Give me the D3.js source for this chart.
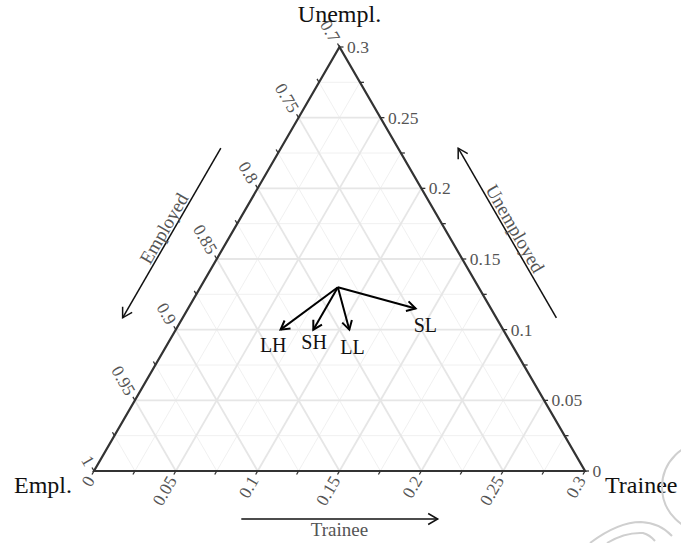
<!DOCTYPE html>
<html>
<head>
<meta charset="utf-8">
<script src="https://cdn.jsdelivr.net/npm/d3@7/dist/d3.min.js"></script>
<style>
  body { margin: 0; background: #fff; }
  text { font-family: "Liberation Serif", "DejaVu Serif", serif; }
</style>
</head>
<body>
<svg id="chart" width="681" height="543"></svg>
<script>
// Axis ticks (zoomed ternary region: Empl 0.7–1, Trainee 0–0.3, Unempl 0–0.3)
const emplTicks = [0.7, 0.75, 0.8, 0.85, 0.9, 0.95, 1];
const emplLabels = ["0.7", "0.75", "0.8", "0.85", "0.9", "0.95", "1"];
const traineeTicks = [0, 0.05, 0.1, 0.15, 0.2, 0.25, 0.3];
const traineeLabels = ["0", "0.05", "0.1", "0.15", "0.2", "0.25", "0.3"];
const unemplTicks = [0, 0.05, 0.1, 0.15, 0.2, 0.25, 0.3];
const unemplLabels = ["0", "0.05", "0.1", "0.15", "0.2", "0.25", "0.3"];
const minorSteps = [0.025, 0.075, 0.125, 0.175, 0.225, 0.275];

// Common starting composition and the four group shifts
const groups = ["LH", "SH", "LL", "SL"];
const startTrainee = 0.084;
const startUnempl = 0.130;
const endTrainee = [0.064, 0.084, 0.106, 0.139];
const endUnempl = [0.100, 0.100, 0.100, 0.115];
const labelTrainee = [0.065, 0.089, 0.114, 0.151];
const labelUnempl = [0.089, 0.091, 0.088, 0.103];

// Axis direction arrows (range along each edge)
const arrowEmpl = [0.79, 0.91];
const arrowTrainee = [0.09, 0.21];
const arrowUnempl = [0.09, 0.21];

const svg = d3.select("#chart");

// Ternary -> screen: horizontal uses Trainee + Unempl/2, vertical uses Unempl
const hScale = d3.scaleLinear().domain([0, 0.3]).range([94, 585]);
const vScale = d3.scaleLinear().domain([0, 0.3]).range([471, 47]);
const pt = (t, u) => [hScale(t + u / 2), vScale(u)];

const s3 = Math.sqrt(3) / 2;
const outLeft = [-0.5, -s3];   // along constant-Empl lines, outward
const outBottom = [-0.5, s3];  // along constant-Trainee lines, outward
const outRight = [1, 0];       // along constant-Unempl lines, outward

// ---- grid ----
const gridG = svg.append("g");
function gridLines(vals, color, width) {
  vals.forEach(s => {
    const segs = [
      [pt(0, s), pt(0.3 - s, s)],   // constant Unempl
      [pt(s, 0), pt(s, 0.3 - s)],   // constant Trainee
      [pt(0, s), pt(s, 0)]          // constant Empl
    ];
    segs.forEach(([a, b]) => {
      gridG.append("line")
        .attr("x1", a[0]).attr("y1", a[1]).attr("x2", b[0]).attr("y2", b[1])
        .attr("stroke", color).attr("stroke-width", width);
    });
  });
}
gridLines(minorSteps, "#eeeeee", 0.9);
gridLines(unemplTicks.filter(v => v > 0 && v < 0.3), "#e6e6e6", 1.8);

// ---- triangle border ----
const corners = [pt(0, 0), pt(0.3, 0), pt(0, 0.3)];
svg.append("path")
  .attr("d", d3.line()(corners) + "Z")
  .attr("fill", "none").attr("stroke", "#333").attr("stroke-width", 2.2)
  .attr("stroke-linejoin", "miter");

// ---- ticks and tick labels ----
const allSteps = d3.range(0, 13).map(i => i * 0.025);
const tickG = svg.append("g").attr("stroke", "#333").attr("stroke-width", 1.3);
const tickLen = 4;
function drawTick(p, dir) {
  tickG.append("line")
    .attr("x1", p[0]).attr("y1", p[1])
    .attr("x2", p[0] + dir[0] * tickLen).attr("y2", p[1] + dir[1] * tickLen);
}
allSteps.forEach(s => {
  drawTick(pt(0, s), outLeft);          // Empl axis (left edge)
  drawTick(pt(s, 0), outBottom);        // Trainee axis (bottom edge)
  drawTick(pt(0.3 - s, s), outRight);   // Unempl axis (right edge)
});

const labG = svg.append("g").attr("fill", "#555").attr("font-size", 17.5);
const lOff = 7.5;
emplTicks.forEach((e, i) => {
  const p = pt(0, 1 - e);
  const x = p[0] + outLeft[0] * lOff, y = p[1] + outLeft[1] * lOff;
  labG.append("text").attr("x", x).attr("y", y)
    .attr("text-anchor", "end").attr("dominant-baseline", "central")
    .attr("transform", `rotate(60,${x},${y})`).text(emplLabels[i]);
});
traineeTicks.forEach((t, i) => {
  const p = pt(t, 0);
  const x = p[0] + outBottom[0] * lOff, y = p[1] + outBottom[1] * lOff;
  labG.append("text").attr("x", x).attr("y", y)
    .attr("text-anchor", "end").attr("dominant-baseline", "central")
    .attr("transform", `rotate(-60,${x},${y})`).text(traineeLabels[i]);
});
unemplTicks.forEach((u, i) => {
  const p = pt(0.3 - u, u);
  labG.append("text").attr("x", p[0] + lOff).attr("y", p[1])
    .attr("text-anchor", "start").attr("dominant-baseline", "central")
    .text(unemplLabels[i]);
});

// ---- corner titles ----
const titleG = svg.append("g").attr("fill", "#111").attr("font-size", 24);
titleG.append("text").attr("x", pt(0, 0.3)[0]).attr("y", 22)
  .attr("text-anchor", "middle").text("Unempl.");
titleG.append("text").attr("x", pt(0, 0)[0] - 22).attr("y", 493)
  .attr("text-anchor", "end").text("Empl.");
titleG.append("text").attr("x", pt(0.3, 0)[0] + 20).attr("y", 493)
  .attr("text-anchor", "start").text("Trainee");

// ---- open arrowhead helper ----
function arrowHead(g, from, to, len, width, color) {
  const ang = Math.atan2(to[1] - from[1], to[0] - from[0]);
  const spread = Math.PI / 6;
  const a1 = [to[0] - len * Math.cos(ang - spread), to[1] - len * Math.sin(ang - spread)];
  const a2 = [to[0] - len * Math.cos(ang + spread), to[1] - len * Math.sin(ang + spread)];
  g.append("path")
    .attr("d", d3.line()([a1, to, a2]))
    .attr("fill", "none").attr("stroke", color).attr("stroke-width", width)
    .attr("stroke-linejoin", "miter");
}

// ---- axis direction arrows with labels ----
const axG = svg.append("g");
function axisArrow(a, b, normal, off, labOff, label, rot) {
  const p1 = [a[0] + normal[0] * off, a[1] + normal[1] * off];
  const p2 = [b[0] + normal[0] * off, b[1] + normal[1] * off];
  axG.append("line")
    .attr("x1", p1[0]).attr("y1", p1[1]).attr("x2", p2[0]).attr("y2", p2[1])
    .attr("stroke", "#111").attr("stroke-width", 1.5);
  arrowHead(axG, p1, p2, 11, 1.5, "#111");
  const mx = (a[0] + b[0]) / 2 + normal[0] * labOff;
  const my = (a[1] + b[1]) / 2 + normal[1] * labOff;
  axG.append("text").attr("x", mx).attr("y", my)
    .attr("text-anchor", "middle").attr("dominant-baseline", "central")
    .attr("fill", "#555").attr("font-size", 19)
    .attr("transform", `rotate(${rot},${mx},${my})`).text(label);
}
// Employed: along left edge, pointing toward Empl = 1
axisArrow(pt(0, 1 - arrowEmpl[0]), pt(0, 1 - arrowEmpl[1]),
  [-s3, -0.5], 52, 61, "Employed", -60);
// Trainee: along bottom edge, pointing toward Trainee max
axisArrow(pt(arrowTrainee[0], 0), pt(arrowTrainee[1], 0),
  [0, 1], 48, 58, "Trainee", 0);
// Unemployed: along right edge, pointing toward Unempl max
axisArrow(pt(0.3 - arrowUnempl[0], arrowUnempl[0]), pt(0.3 - arrowUnempl[1], arrowUnempl[1]),
  [s3, -0.5], 52, 61, "Unemployed", 60);

// ---- group shift arrows ----
const dataG = svg.append("g");
const origin = pt(startTrainee, startUnempl);
groups.forEach((g, i) => {
  const end = pt(endTrainee[i], endUnempl[i]);
  dataG.append("line")
    .attr("x1", origin[0]).attr("y1", origin[1]).attr("x2", end[0]).attr("y2", end[1])
    .attr("stroke", "#000").attr("stroke-width", 2);
  arrowHead(dataG, origin, end, 10, 2, "#000");
  const lp = pt(labelTrainee[i], labelUnempl[i]);
  dataG.append("text").attr("x", lp[0]).attr("y", lp[1])
    .attr("text-anchor", "middle").attr("dominant-baseline", "central")
    .attr("font-size", 20).attr("fill", "#111").text(g);
});

// ---- faint decorative mark, lower right ----
const deco = svg.append("g").attr("fill", "none").attr("stroke", "#cfcfcf").attr("stroke-width", 2);
deco.append("circle").attr("cx", 707).attr("cy", 487).attr("r", 45);
deco.append("path").attr("d", "M590,543 Q618,522 641,522 Q660,523 672,536");
deco.append("path").attr("d", "M607,543 Q625,532 643,533 Q650,535 655,541");
</script>
</body>
</html>
